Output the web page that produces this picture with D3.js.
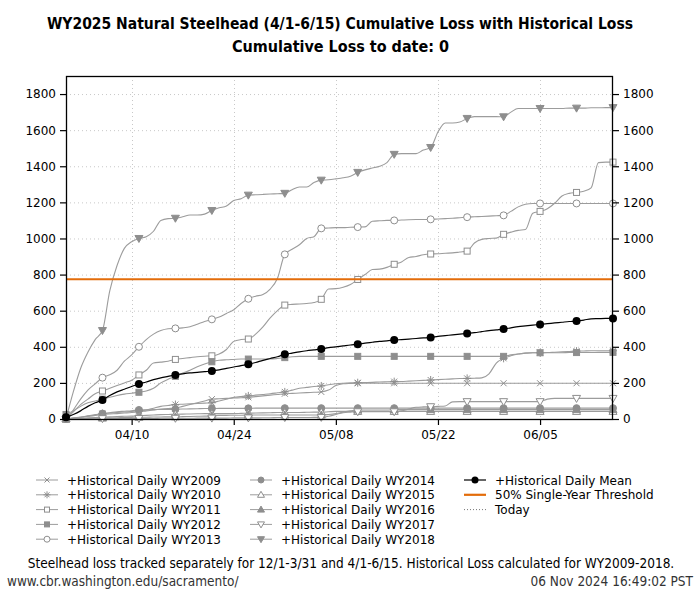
<!DOCTYPE html>
<html><head><meta charset="utf-8">
<script src="https://cdn.jsdelivr.net/npm/d3@7"></script>
<style>
body{margin:0;background:#fff;}
svg{display:block;}
</style></head>
<body><svg id="c" width="700" height="600"></svg>
<script>
// ---- data (daily cumulative loss, 4/1 .. 6/15) ----
const startDate = "2025-04-01";
const endDate = "2025-06-15";
const tickDates = ["2025-04-10","2025-04-24","2025-05-08","2025-05-22","2025-06-05"];
const yTicks = [0,200,400,600,800,1000,1200,1400,1600,1800];
const threshold = 774;

const wy2009 = [0,5,10,15,20,25, 28,30,33,36,40, 45,50,55,58,60, 70,80,90,100,110, 112,114,116,118,120, 124,128,132,136,140, 142,144,146,148,150, 160,185,195,197,198, 198,198,198,198,198, 198,198,198,198,198, 198,198,198,198,198, 198,198,198,198,198, 198,198,198,198,198, 198,198,198,198,198, 198,198,198,198,198];
const wy2010 = [0,5,10,18,24,30, 33,36,39,42,45, 50,60,70,75,80, 82,84,86,88,90, 100,110,120,125,128, 132,136,140,145,150, 160,170,175,180,183, 190,195,198,200,201, 202,203,205,206,207, 208,210,212,214,216, 218,220,222,224,225, 226,228,250,310,336, 350,360,365,367,367, 368,370,372,374,376, 377,378,378,378,378];
const wy2011 = [0,40,80,110,140,155, 170,185,200,215,244, 270,310,315,320,330, 335,340,345,348,350, 360,385,430,440,443, 470,510,560,600,631, 635,637,640,645,663, 720,722,730,745,773, 800,828,830,840,857, 870,895,900,910,914, 915,918,920,925,930, 975,995,1000,1002,1023, 1035,1045,1050,1140,1150, 1165,1195,1235,1250,1255, 1262,1280,1420,1423,1423];
const wy2012 = [25,45,70,90,100,110, 120,130,138,143,148, 155,170,200,220,236, 255,270,290,305,317, 325,328,330,332,332, 332,332,332,335,340, 345,347,347,347,347, 347,347,347,347,347, 347,347,347,347,347, 347,347,347,347,347, 347,347,347,347,347, 347,347,347,347,347, 355,360,365,367,367, 367,367,367,368,368, 368,368,369,369,369];
const wy2013 = [0,50,110,160,195,229, 245,270,320,355,400, 440,470,490,500,502, 505,511,525,540,552, 565,585,605,640,666, 680,690,720,780,912, 940,965,1000,1010,1056, 1058,1060,1060,1062,1063, 1064,1095,1098,1100,1100, 1102,1104,1105,1105,1106, 1108,1110,1112,1115,1118, 1120,1122,1124,1126,1128, 1150,1175,1190,1194,1194, 1194,1194,1194,1194,1194, 1194,1194,1194,1194,1194];
const wy2014 = [0,5,10,15,20,30, 35,40,43,46,50, 51,52,53,53,54, 55,56,57,58,58, 59,59,59,59,59, 60,60,60,60,60, 60,60,60,60,60, 60,60,60,60,60, 60,60,60,60,60, 60,60,60,60,60, 60,60,60,60,60, 60,60,60,60,60, 60,60,60,60,60, 60,60,60,60,60, 60,60,60,60,60];
const wy2015 = [0,2,4,6,8,10, 12,14,15,16,18, 20,22,24,25,26, 27,28,29,30,30, 30,30,30,31,32, 33,34,35,36,36, 36,36,37,38,38, 40,42,42,42,42, 42,42,42,42,42, 42,42,42,42,42, 42,42,42,42,42, 42,42,42,42,42, 42,42,42,42,42, 42,42,42,42,42, 42,42,42,42,42];
const wy2016 = [0,1,2,3,4,5, 6,7,8,9,10, 10,11,11,12,12, 13,14,15,16,18, 20,20,21,21,22, 22,22,22,22,22, 22,22,22,22,22, 25,30,38,45,50, 50,50,50,50,52, 52,52,52,52,52, 52,52,52,52,52, 52,52,52,52,52, 52,52,52,52,52, 52,52,52,52,52, 52,52,52,52,52];
const wy2017 = [0,0,0,0,0,2, 2,2,3,3,3, 3,3,4,4,4, 4,4,5,5,5, 5,5,6,6,6, 6,7,7,8,8, 8,8,8,9,9, 15,25,35,38,40, 40,40,40,40,40, 45,55,65,67,68, 70,72,95,96,96, 96,96,96,96,96, 96,96,96,96,96, 110,114,114,114,114, 114,114,114,114,114];
const wy2018 = [0,150,280,370,440,490, 710,850,945,982,1000, 1010,1040,1100,1110,1112, 1120,1130,1130,1135,1155, 1170,1180,1210,1220,1240, 1242,1244,1246,1248,1250, 1270,1285,1285,1310,1323, 1325,1330,1336,1345,1366, 1380,1390,1400,1420,1466, 1470,1470,1470,1490,1504, 1590,1640,1640,1645,1665, 1675,1675,1675,1675,1674, 1700,1720,1720,1720,1720, 1720,1720,1720,1722,1722, 1722,1724,1724,1725,1725];
const meanLoss = [10,25,45,70,90,105, 130,150,165,180,194, 205,218,228,236,244, 250,255,258,262,266, 272,280,288,296,303, 313,325,335,345,358, 365,372,378,383,388, 395,400,405,410,414, 420,425,430,433,437, 440,443,446,449,452, 458,462,466,470,474, 478,484,490,494,498, 505,512,516,520,524, 528,532,536,540,543, 548,555,556,557,557];

const seriesNames = ["+Historical Daily WY2009","+Historical Daily WY2010","+Historical Daily WY2011","+Historical Daily WY2012","+Historical Daily WY2013","+Historical Daily WY2014","+Historical Daily WY2015","+Historical Daily WY2016","+Historical Daily WY2017","+Historical Daily WY2018"];
const seriesData = [wy2009,wy2010,wy2011,wy2012,wy2013,wy2014,wy2015,wy2016,wy2017,wy2018];
const seriesShapes = ["x","star","sqOpen","sqFill","cirOpen","cirFill","triUpOpen","triUpFill","triDnOpen","triDnFill"];

const titleLines = ["WY2025 Natural Steelhead (4/1-6/15) Cumulative Loss with Historical Loss","Cumulative Loss to date: 0"];
const footNote = "Steelhead loss tracked separately for 12/1-3/31 and 4/1-6/15. Historical Loss calculated for WY2009-2018.";
const urlText = "www.cbr.washington.edu/sacramento/";
const stampText = "06 Nov 2024 16:49:02 PST";

// ---- drawing ----
const svg = d3.select("#c");
const W=700,H=600;
const L=66,R=613,T=76,B=419;
const parse = d3.utcParse("%Y-%m-%d");
const d0 = parse(startDate), d1 = parse(endDate);
const x = d3.scaleUtc().domain([d0,d1]).range([L,R]);
const y = d3.scaleLinear().domain([0,1900]).range([B,T]);
const dayDate = i => d3.utcDay.offset(d0,i);

const GREY="#9c9c9c", MGREY="#8e8e8e", ORANGE="#e36c0a";
const FONT="'DejaVu Sans', sans-serif";
const CFONT="'DejaVu Sans Condensed','DejaVu Sans', sans-serif";

svg.append("rect").attr("width",W).attr("height",H).attr("fill","#fff");

// grid
const g = svg.append("g");
g.selectAll(".hg").data(yTicks.filter(v=>v>0)).enter().append("line")
 .attr("x1",L).attr("x2",R).attr("y1",d=>y(d)+0.5).attr("y2",d=>y(d)+0.5)
 .attr("stroke","#c8c8c8").attr("stroke-width",1).attr("stroke-dasharray","1,3");
g.selectAll(".vg").data(tickDates).enter().append("line")
 .attr("x1",d=>Math.round(x(parse(d)))+0.5).attr("x2",d=>Math.round(x(parse(d)))+0.5).attr("y1",T).attr("y2",B)
 .attr("stroke","#c8c8c8").attr("stroke-width",1).attr("stroke-dasharray","1,3");

// symbols
function sym(sel, shape, color, s){
  const h=s;
  switch(shape){
    case "x": sel.append("path").attr("d",`M${-h},${-h}L${h},${h}M${-h},${h}L${h},${-h}`).attr("stroke",color).attr("fill","none").attr("stroke-width",1); break;
    case "star": sel.append("path").attr("d",`M${-h},${-h}L${h},${h}M${-h},${h}L${h},${-h}M${-h-1},0L${h+1},0M0,${-h-1}L0,${h+1}`).attr("stroke",color).attr("fill","none").attr("stroke-width",1); break;
    case "sqOpen": sel.append("rect").attr("x",-h).attr("y",-h).attr("width",2*h).attr("height",2*h).attr("fill","#fff").attr("stroke",color).attr("stroke-width",1); break;
    case "sqFill": sel.append("rect").attr("x",-h).attr("y",-h).attr("width",2*h).attr("height",2*h).attr("fill",color).attr("stroke",color).attr("stroke-width",1); break;
    case "cirOpen": sel.append("circle").attr("r",h+0.5).attr("fill","#fff").attr("stroke",color).attr("stroke-width",1); break;
    case "cirFill": sel.append("circle").attr("r",h+0.5).attr("fill",color).attr("stroke",color).attr("stroke-width",1); break;
    case "triUpOpen": sel.append("path").attr("d",`M0,${-h-1}L${h+1},${h}L${-h-1},${h}Z`).attr("fill","#fff").attr("stroke",color).attr("stroke-width",1); break;
    case "triUpFill": sel.append("path").attr("d",`M0,${-h-1}L${h+1},${h}L${-h-1},${h}Z`).attr("fill",color).attr("stroke",color).attr("stroke-width",1); break;
    case "triDnOpen": sel.append("path").attr("d",`M0,${h+1}L${h+1},${-h}L${-h-1},${-h}Z`).attr("fill","#fff").attr("stroke",color).attr("stroke-width",1); break;
    case "triDnFill": sel.append("path").attr("d",`M0,${h+1}L${h+1},${-h}L${-h-1},${-h}Z`).attr("fill",color).attr("stroke",color).attr("stroke-width",1); break;
  }
}

const line = d3.line().x((d,i)=>x(dayDate(i))).y(d=>y(d)).curve(d3.curveMonotoneX);
const plot = svg.append("g");
seriesData.forEach((arr,k)=>{
  plot.append("path").attr("d",line(arr)).attr("fill","none").attr("stroke",GREY).attr("stroke-width",1.1);
});
seriesData.forEach((arr,k)=>{
  arr.forEach((v,i)=>{
    if(i%5!==0) return;
    const m = plot.append("g").attr("transform",`translate(${x(dayDate(i))},${y(v)})`);
    sym(m, seriesShapes[k], MGREY, 3);
  });
});
// threshold
plot.append("line").attr("x1",L).attr("x2",R).attr("y1",y(threshold)).attr("y2",y(threshold))
 .attr("stroke",ORANGE).attr("stroke-width",2.2);
// mean
plot.append("path").attr("d",line(meanLoss)).attr("fill","none").attr("stroke","#000").attr("stroke-width",1.2);
meanLoss.forEach((v,i)=>{
  if(i%5!==0) return;
  plot.append("circle").attr("cx",x(dayDate(i))).attr("cy",y(v)).attr("r",4).attr("fill","#000");
});

// frame & axes
svg.append("rect").attr("x",L+0.5).attr("y",T+0.5).attr("width",R-L-1).attr("height",B-T).attr("fill","none").attr("stroke","#000").attr("stroke-width",1.3);
const yl = d3.axisLeft(y).tickValues(yTicks).tickFormat(d3.format("d")).tickSize(6).tickPadding(4);
const yr = d3.axisRight(y).tickValues(yTicks).tickFormat(d3.format("d")).tickSize(6).tickPadding(4);
const xb = d3.axisBottom(x).tickValues(tickDates.map(parse)).tickFormat(d3.utcFormat("%m/%d")).tickSize(6).tickPadding(5);
function styleAxis(a){ a.select(".domain").remove(); a.selectAll("line").attr("stroke","#000").attr("stroke-width",1.2); a.selectAll("text").attr("font-family",FONT).attr("font-size",12).attr("fill","#000"); }
svg.append("g").attr("transform",`translate(${L},0)`).call(yl).call(styleAxis);
svg.append("g").attr("transform",`translate(${R},0)`).call(yr).call(styleAxis);
svg.append("g").attr("transform",`translate(0,${B})`).call(xb).call(styleAxis);

// title
svg.append("text").attr("x",340).attr("y",29).attr("text-anchor","middle").attr("font-family",CFONT).attr("font-weight","bold").attr("font-size",16)
 .attr("textLength",586).attr("lengthAdjust","spacingAndGlyphs").text(titleLines[0]);
svg.append("text").attr("x",340.5).attr("y",52).attr("text-anchor","middle").attr("font-family",CFONT).attr("font-weight","bold").attr("font-size",16).text(titleLines[1]);

// legend
const legItems = seriesNames.map((n,k)=>({name:n, shape:seriesShapes[k], color:MGREY, lineColor:GREY}));
const cols=[36,250,464], rows=[480,494.8,509.6,524.4,539.2];
const legend = svg.append("g");
function legEntry(cx, cy, name, draw){
  const e = legend.append("g");
  draw(e, cx, cy);
  e.append("text").attr("x",cx+31).attr("y",cy+4.5).attr("font-family",FONT).attr("font-size",12).attr("fill","#000").text(name);
}
legItems.forEach((it,k)=>{
  const c = cols[Math.floor(k/5)], r = rows[k%5];
  legEntry(c, r, it.name, (e,cx,cy)=>{
    e.append("line").attr("x1",cx).attr("x2",cx+22).attr("y1",cy).attr("y2",cy).attr("stroke",it.lineColor).attr("stroke-width",1);
    const m = e.append("g").attr("transform",`translate(${cx+11},${cy})`);
    sym(m, it.shape, it.color, 2.5);
  });
});
legEntry(cols[2], rows[0], "+Historical Daily Mean", (e,cx,cy)=>{
  e.append("line").attr("x1",cx).attr("x2",cx+22).attr("y1",cy).attr("y2",cy).attr("stroke","#000").attr("stroke-width",1.2);
  e.append("circle").attr("cx",cx+11).attr("cy",cy).attr("r",3.5).attr("fill","#000");
});
legEntry(cols[2], rows[1], "50% Single-Year Threshold", (e,cx,cy)=>{
  e.append("line").attr("x1",cx).attr("x2",cx+22).attr("y1",cy).attr("y2",cy).attr("stroke",ORANGE).attr("stroke-width",2.2);
});
legEntry(cols[2], rows[2], "Today", (e,cx,cy)=>{
  e.append("line").attr("x1",cx).attr("x2",cx+22).attr("y1",cy).attr("y2",cy).attr("stroke","#777").attr("stroke-width",1).attr("stroke-dasharray","1,2");
});

// footer
svg.append("text").attr("x",351).attr("y",568).attr("text-anchor","middle").attr("font-family",CFONT).attr("font-size",13.5).text(footNote);
svg.append("text").attr("x",7).attr("y",586).attr("font-family",CFONT).attr("font-size",13.5).attr("fill","#333").text(urlText);
svg.append("text").attr("x",693).attr("y",586).attr("text-anchor","end").attr("font-family",CFONT).attr("font-size",13.5).attr("fill","#333").text(stampText);
</script></body></html>
